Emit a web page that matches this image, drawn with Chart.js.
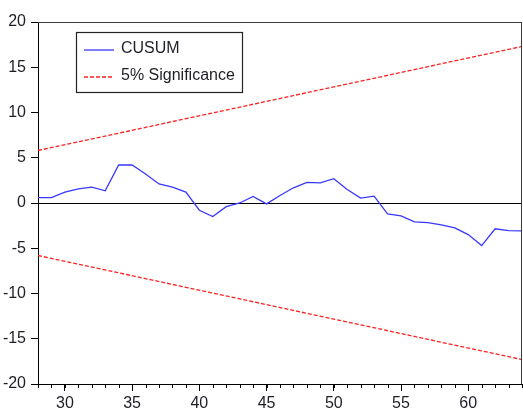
<!DOCTYPE html>
<html>
<head>
<meta charset="utf-8">
<script src="https://cdn.jsdelivr.net/npm/chart.js@4.4.1/dist/chart.umd.min.js"></script>
<style>
  html, body { margin: 0; padding: 0; background: #fff; }
  #wrap { width: 523px; height: 411px; position: relative; }
</style>
</head>
<body>
<div id="wrap"><canvas id="c" width="523" height="411"></canvas></div>
<script>
// Observation index
const obs = [28,29,30,31,32,33,34,35,36,37,38,39,40,41,42,43,44,45,46,
             47,48,49,50,51,52,53,54,55,56,57,58,59,60,61,62,63,64];
// Cumulative sum of recursive residuals
const cusum = [0.6,0.6,1.2,1.57,1.75,1.35,4.2,4.2,3.2,2.1,1.75,1.2,-0.8,-1.5,
               -0.4,0.0,0.72,-0.1,0.83,1.68,2.27,2.23,2.68,1.5,0.54,0.76,-1.2,
               -1.42,-2.09,-2.16,-2.42,-2.75,-3.49,-4.7,-2.85,-3.05,-3.08];
// 5% significance bounds (straight lines, end points)
const boundObs = [28, 64];
const upperBound = [5.8, 17.3];
const lowerBound = [-5.8, -17.3];
// Axis labels
const xTickValues = [30, 35, 40, 45, 50, 55, 60];
const yTickValues = [-20, -15, -10, -5, 0, 5, 10, 15, 20];

const FONT = '"Liberation Sans", Arial, sans-serif';
const TEXT = '#1e1e28';

const pts = (xs, ys) => xs.map((x, i) => ({ x: x, y: ys[i] }));

// Minor ticks on the x axis, frame and legend box
const decor = {
  id: 'decor',
  afterDraw(chart) {
    const ctx = chart.ctx;
    const a = chart.chartArea;
    const xs = chart.scales.x;
    ctx.save();
    // minor ticks, one per observation
    ctx.strokeStyle = '#000';
    ctx.lineWidth = 1;
    ctx.beginPath();
    for (let v = xs.min; v <= xs.max; v++) {
      const px = Math.round(xs.getPixelForValue(v)) + 0.5;
      ctx.moveTo(px, a.bottom);
      ctx.lineTo(px, a.bottom + 4);
    }
    ctx.stroke();
    // top and right edges of the frame
    ctx.strokeStyle = '#3a3a3a';
    ctx.beginPath();
    ctx.moveTo(a.left, Math.round(a.top) + 0.5);
    ctx.lineTo(a.right, Math.round(a.top) + 0.5);
    ctx.moveTo(Math.round(a.right) - 0.5, a.top);
    ctx.lineTo(Math.round(a.right) - 0.5, a.bottom);
    ctx.stroke();

    // legend
    const bx = 76.5, by = 32.5, bw = 166, bh = 60;
    ctx.fillStyle = '#fff';
    ctx.fillRect(bx, by, bw, bh);
    ctx.strokeStyle = '#222';
    ctx.lineWidth = 1.2;
    ctx.strokeRect(bx, by, bw, bh);
    const rows = [50, 77];
    chart.data.datasets.slice(0, 2).forEach((ds, i) => {
      const y = rows[i];
      ctx.beginPath();
      ctx.strokeStyle = ds.borderColor;
      ctx.lineWidth = ds.borderWidth;
      ctx.setLineDash(ds.borderDash || []);
      ctx.moveTo(84, y);
      ctx.lineTo(114, y);
      ctx.stroke();
      ctx.setLineDash([]);
      ctx.fillStyle = TEXT;
      ctx.font = '16px ' + FONT;
      ctx.textBaseline = 'middle';
      ctx.textAlign = 'left';
      ctx.fillText(ds.label, 121, y - 1);
    });
    ctx.restore();
  }
};

new Chart(document.getElementById('c'), {
  type: 'line',
  data: {
    datasets: [
      {
        label: 'CUSUM',
        data: pts(obs, cusum),
        borderColor: '#3838ff',
        borderWidth: 1.3,
        pointRadius: 0,
        tension: 0,
        fill: false
      },
      {
        label: '5% Significance',
        data: pts(boundObs, upperBound),
        borderColor: '#ff2020',
        borderWidth: 1.3,
        borderDash: [4, 2],
        pointRadius: 0,
        fill: false
      },
      {
        label: '5% Significance (lower)',
        data: pts(boundObs, lowerBound),
        borderColor: '#ff2020',
        borderWidth: 1.3,
        borderDash: [4, 2],
        pointRadius: 0,
        fill: false
      }
    ]
  },
  options: {
    responsive: false,
    animation: false,
    events: [],
    layout: { padding: { top: 22, right: 1, left: 0, bottom: 0 } },
    plugins: { legend: { display: false }, tooltip: { enabled: false } },
    scales: {
      x: {
        type: 'linear',
        min: 28,
        max: 64,
        afterBuildTicks: s => { s.ticks = xTickValues.map(v => ({ value: v })); },
        afterFit: s => { s.height = 27; },
        ticks: {
          autoSkip: false,
          maxRotation: 0,
          padding: 3,
          color: TEXT,
          font: { family: FONT, size: 16 }
        },
        grid: {
          drawOnChartArea: false,
          drawTicks: true,
          tickLength: 7,
          tickColor: '#000'
        },
        border: { display: true, color: '#000', width: 1 }
      },
      y: {
        type: 'linear',
        min: -20,
        max: 20,
        afterBuildTicks: s => { s.ticks = yTickValues.map(v => ({ value: v })); },
        afterFit: s => { s.width = 38; },
        ticks: {
          padding: 5,
          color: TEXT,
          font: { family: FONT, size: 16 }
        },
        grid: {
          color: c => (c.tick && c.tick.value === 0) ? '#000' : 'rgba(0,0,0,0)',
          lineWidth: 1,
          drawTicks: true,
          tickLength: 7,
          tickColor: '#000'
        },
        border: { display: true, color: '#000', width: 1 }
      }
    }
  },
  plugins: [decor]
});
</script>
</body>
</html>
